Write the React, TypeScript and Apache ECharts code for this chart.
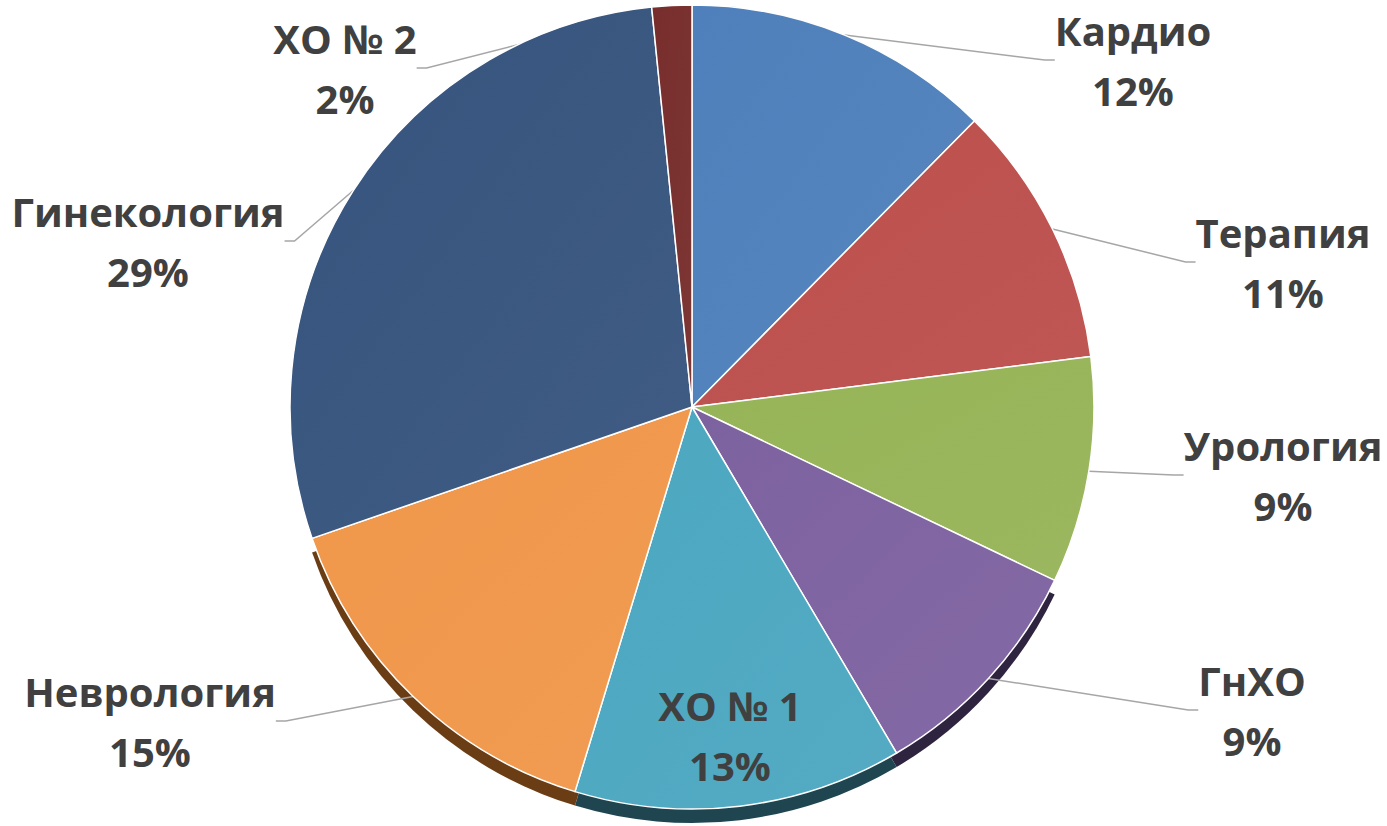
import React, { useEffect, useRef } from "react";
import * as echarts from "echarts";

const categories = ["Кардио", "Терапия", "Урология", "ГнХО", "ХО № 1", "Неврология", "Гинекология", "ХО № 2"];
const values = [12.4, 10.6, 9.1, 9.4, 13.2, 15.0, 28.7, 1.6];
const topColors = ["#4F80BB", "#BC4F4C", "#96B457", "#7D62A0", "#4BA7C0", "#F0974A", "#36547E", "#772D2B"];
const sideColors = ["transparent", "transparent", "transparent", "#2F2440", "#1F4650", "#6B3D15", "transparent", "transparent"];
const labelCenters: [number, number][] = [
  [1133, 60], [1283, 262], [1283, 475], [1252, 710], [730, 735], [150, 721], [148, 241], [345, 68],
];

export default function App() {
  const ref = useRef<HTMLDivElement>(null);
  useEffect(() => {
    const chart = echarts.init(ref.current!, null, { renderer: "svg" });
    const R = 402;
    const cx = 692;
    const cy = 407;
    const mainData = categories.map((name, i) => ({
      name,
      value: values[i],
      itemStyle: {
        color: new echarts.graphic.LinearGradient(0, 0, 1, 1, [
          { offset: 0, color: topColors[i] },
          { offset: 1, color: echarts.color.lift(topColors[i], 0.05) },
        ]),
      },
      label: i === 4 ? { position: "inside" } : undefined,
      labelLine: i === 4 ? { show: false } : undefined,
    }));
    const sideData = categories.map((name, i) => ({
      name,
      value: values[i],
      itemStyle: { color: sideColors[i] },
    }));
    chart.setOption({
      animation: false,
      backgroundColor: "#ffffff",
      series: [
        {
          type: "pie",
          silent: true,
          center: [cx, cy + 14],
          radius: R,
          startAngle: 90,
          label: { show: false },
          labelLine: { show: false },
          itemStyle: { borderWidth: 0 },
          data: sideData,
          z: 1,
        },
        {
          type: "pie",
          center: [cx, cy],
          radius: R,
          startAngle: 90,
          avoidLabelOverlap: false,
          itemStyle: { borderColor: "#ffffff", borderWidth: 1.5 },
          label: {
            show: true,
            position: "outside",
            formatter: (p: any) => `${p.name}\n${Math.round(p.percent)}%`,
            fontFamily: "'Open Sans', sans-serif",
            fontWeight: "bold",
            fontSize: 40,
            lineHeight: 60,
            color: "#404040",
            align: "center",
          },
          labelLine: {
            show: true,
            length: 10,
            length2: 10,
            lineStyle: { color: "#A6A6A6", width: 1.5 },
          },
          labelLayout: (params: any) => {
            const c = labelCenters[params.dataIndex];
            return { x: c[0], y: c[1], align: "center", verticalAlign: "middle" };
          },
          data: mainData,
          z: 2,
        },
      ],
    });
    return () => chart.dispose();
  }, []);
  return (
    <div
      ref={ref}
      style={{ position: "fixed", left: 0, top: 0, width: 1387, height: 826, background: "#fff" }}
    />
  );
}
